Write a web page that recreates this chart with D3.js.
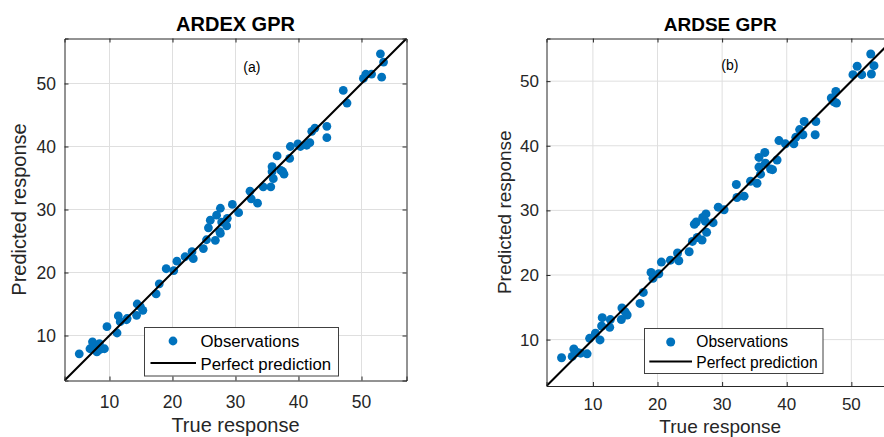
<!DOCTYPE html>
<html>
<head>
<meta charset="utf-8">
<script src="https://cdn.jsdelivr.net/npm/d3@7"></script>
<style>
  body { margin: 0; background: #fff; }
  svg { display: block; font-family: "Liberation Sans", Arial, Helvetica, sans-serif; }
</style>
</head>
<body>
<svg id="chart" width="884" height="437"></svg>
<script>
const ticks = [10, 20, 30, 40, 50];
const legendLabels = ['Observations', 'Perfect prediction'];

// ARDEX GPR (a)
const ardexTrue = [5.2, 6.9, 7.3, 7.7, 8.0, 8.1, 8.4, 8.5, 9.2, 9.6, 11.2, 11.4, 11.7, 12.7, 12.8, 14.3, 14.4, 14.9, 15.3, 17.4,
  17.9, 19.0, 20.2, 20.7, 22.0, 23.1, 23.3, 24.9, 25.4, 25.7, 26.0, 26.8, 27.0, 27.5, 27.6, 27.6, 27.8, 28.6, 28.7, 29.5,
  30.5, 32.3, 32.5, 33.5, 34.4, 35.6, 35.8, 35.8, 36.0, 36.6, 37.2, 37.5, 37.7, 38.6, 38.7, 39.9, 40.3, 41.3, 41.8, 42.1,
  42.6, 44.5, 44.5, 47.1, 47.7, 50.3, 50.7, 51.6, 53.0, 53.2, 53.5];
const ardexPred = [7.1, 7.9, 9.0, 8.2, 7.4, 8.2, 8.7, 7.8, 7.9, 11.4, 10.4, 13.1, 12.2, 12.5, 12.7, 13.2, 15.0, 14.6, 14.0, 16.6,
  18.2, 20.6, 20.3, 21.8, 22.5, 23.3, 22.2, 23.8, 25.2, 27.1, 28.3, 25.1, 29.1, 26.5, 30.2, 26.2, 28.0, 27.4, 28.6, 30.8,
  29.5, 32.9, 31.7, 31.0, 33.6, 33.6, 36.8, 36.0, 34.9, 38.5, 36.2, 36.0, 35.6, 38.1, 40.0, 40.4, 40.0, 40.2, 40.6, 42.4,
  42.9, 43.2, 41.4, 48.9, 46.9, 50.8, 51.5, 51.5, 54.7, 51.0, 53.4];

// ARDSE GPR (b)
const ardseTrue = [5.15, 6.8, 7.05, 7.6, 8.1, 9.1, 9.5, 10.4, 11.1, 11.35, 11.45, 12.6, 12.7, 14.4, 14.5, 15.0, 15.3, 17.3, 17.8, 19.0,
  19.3, 20.2, 20.6, 22.0, 23.1, 23.3, 24.9, 25.4, 25.7, 26.0, 26.15, 26.9, 27.0, 27.4, 27.5, 27.6, 28.6, 29.4, 30.3, 32.2,
  32.3, 33.4, 34.4, 35.4, 35.7, 35.7, 35.95, 36.6, 36.7, 37.5, 37.8, 38.5, 38.8, 39.8, 41.1, 41.4, 42.0, 42.5, 42.7, 44.4,
  44.5, 46.9, 47.3, 47.6, 47.7, 50.25, 50.9, 51.6, 53.0, 53.1, 53.5];
const ardsePred = [7.2, 7.4, 8.55, 8.0, 7.9, 7.8, 10.2, 11.0, 9.95, 12.1, 13.4, 11.9, 13.1, 13.1, 14.9, 14.3, 13.8, 15.6, 17.3, 20.4,
  19.5, 20.2, 22.0, 22.3, 23.4, 22.2, 23.6, 25.2, 27.85, 28.2, 25.8, 25.4, 28.9, 28.3, 29.45, 26.6, 28.1, 30.5, 30.1, 34.0,
  32.0, 32.2, 34.5, 34.2, 38.2, 36.7, 35.6, 38.95, 37.3, 36.4, 36.3, 37.8, 40.8, 40.3, 40.3, 41.3, 42.5, 41.7, 43.75, 41.7,
  43.75, 47.4, 46.8, 48.4, 46.6, 51.0, 52.3, 51.0, 54.2, 51.1, 52.4];

const blue = '#0072BD';
const ink = '#262626';
const svg = d3.select('#chart');

function drawPanel(p) {
  const x = d3.scaleLinear().domain(p.domain).range([p.left, p.right]);
  const y = d3.scaleLinear().domain(p.domain).range([p.bottom, p.top]);
  const g = svg.append('g');

  const clipId = 'clip-' + p.id;
  g.append('clipPath').attr('id', clipId)
    .append('rect')
    .attr('x', p.left).attr('y', p.top)
    .attr('width', p.right - p.left).attr('height', p.bottom - p.top);

  // grid
  g.append('g').selectAll('line.gx')
    .data(ticks).enter().append('line')
    .attr('x1', d => x(d)).attr('x2', d => x(d))
    .attr('y1', p.top).attr('y2', p.bottom)
    .attr('stroke', '#dfdfdf').attr('stroke-width', 1);
  g.append('g').selectAll('line.gy')
    .data(ticks).enter().append('line')
    .attr('y1', d => y(d)).attr('y2', d => y(d))
    .attr('x1', p.left).attr('x2', p.right)
    .attr('stroke', '#dfdfdf').attr('stroke-width', 1);

  // observations
  const pts = p.xs.map((v, i) => [v, p.ys[i]]);
  g.append('g').attr('clip-path', `url(#${clipId})`)
    .selectAll('circle')
    .data(pts).enter().append('circle')
    .attr('cx', d => x(d[0]))
    .attr('cy', d => y(d[1]))
    .attr('r', p.r)
    .attr('fill', blue);

  // perfect prediction
  g.append('line')
    .attr('clip-path', `url(#${clipId})`)
    .attr('x1', x(p.domain[0])).attr('y1', y(p.domain[0]))
    .attr('x2', x(p.domain[1])).attr('y2', y(p.domain[1]))
    .attr('stroke', '#000').attr('stroke-width', 2);

  // axes box with inward ticks
  const axes = [
    d3.axisBottom(x).tickValues(ticks).tickSize(-4).tickFormat(''),
    d3.axisTop(x).tickValues(ticks).tickSize(-4).tickFormat(''),
    d3.axisLeft(y).tickValues(ticks).tickSize(-4).tickFormat(''),
    d3.axisRight(y).tickValues(ticks).tickSize(-4).tickFormat('')
  ];
  const shifts = [[0, p.bottom], [0, p.top], [p.left, 0], [p.right, 0]];
  axes.forEach((a, i) => {
    const ag = g.append('g').attr('transform', `translate(${shifts[i][0]},${shifts[i][1]})`).call(a);
    ag.selectAll('path, line').attr('stroke', ink).attr('stroke-width', 1);
  });

  // tick labels
  g.append('g').selectAll('text')
    .data(ticks).enter().append('text')
    .attr('x', d => x(d))
    .attr('y', p.xTickY)
    .attr('text-anchor', 'middle')
    .attr('font-size', p.tickFont)
    .attr('fill', ink)
    .text(d => d);
  g.append('g').selectAll('text')
    .data(ticks).enter().append('text')
    .attr('x', p.yTickX)
    .attr('y', d => y(d) + p.tickFont * 0.36)
    .attr('text-anchor', 'end')
    .attr('font-size', p.tickFont)
    .attr('fill', ink)
    .text(d => d);

  // labels
  const cx = (p.left + p.right) / 2;
  g.append('text')
    .attr('x', cx).attr('y', 31)
    .attr('text-anchor', 'middle')
    .attr('font-size', p.titleFont)
    .attr('font-weight', 'bold')
    .attr('fill', '#000')
    .text(p.title);
  g.append('text')
    .attr('x', cx).attr('y', p.xLabelY)
    .attr('text-anchor', 'middle')
    .attr('font-size', p.labelFont)
    .attr('fill', ink)
    .text('True response');
  g.append('text')
    .attr('transform', `translate(${p.yLabelX},${(p.top + p.bottom) / 2}) rotate(-90)`)
    .attr('text-anchor', 'middle')
    .attr('font-size', p.labelFont)
    .attr('fill', ink)
    .text('Predicted response');
  g.append('text')
    .attr('x', x(p.tag[0])).attr('y', y(p.tag[1]))
    .attr('text-anchor', 'middle')
    .attr('font-size', 14)
    .attr('fill', '#000')
    .text(p.tag[2]);

  // legend
  const L = p.legend;
  const lg = g.append('g');
  lg.append('rect')
    .attr('x', L.x).attr('y', L.y).attr('width', L.w).attr('height', L.h)
    .attr('fill', '#fff').attr('stroke', '#404040').attr('stroke-width', 1);
  lg.append('circle')
    .attr('cx', L.markX).attr('cy', L.y + 13.5).attr('r', p.r).attr('fill', blue);
  lg.append('line')
    .attr('x1', L.lineX[0]).attr('x2', L.lineX[1])
    .attr('y1', L.y + L.lineDy).attr('y2', L.y + L.lineDy)
    .attr('stroke', '#000').attr('stroke-width', 2);
  lg.selectAll('text.item')
    .data(legendLabels).enter().append('text')
    .attr('x', L.textX)
    .attr('y', (d, i) => L.y + L.baseDy[i])
    .attr('font-size', L.font)
    .attr('fill', '#000')
    .text(d => d);
}

drawPanel({
  id: 'a', title: 'ARDEX GPR', xs: ardexTrue, ys: ardexPred,
  domain: [2.86, 57.14], left: 64.5, right: 406.5, top: 38.5, bottom: 380.5,
  r: 4.4, tickFont: 17.5, labelFont: 20, titleFont: 20,
  xTickY: 407.5, yTickX: 56, xLabelY: 432, yLabelX: 26,
  tag: [32.6, 51.8, '(a)'],
  legend: { x: 144.5, y: 327.5, w: 194, h: 48.5, markX: 173, lineX: [150.5, 196], lineDy: 35.5,
    textX: 200.5, baseDy: [19.5, 42], font: 16.8 }
});

drawPanel({
  id: 'b', title: 'ARDSE GPR', xs: ardseTrue, ys: ardsePred,
  domain: [2.82, 56.6], left: 546.5, right: 894, top: 38.5, bottom: 386,
  r: 4.5, tickFont: 17, labelFont: 19, titleFont: 19,
  xTickY: 410, yTickX: 539, xLabelY: 432.5, yLabelX: 510.6,
  tag: [31.2, 51.7, '(b)'],
  legend: { x: 644.5, y: 328.5, w: 178.5, h: 45, markX: 670.7, lineX: [649.3, 692], lineDy: 33,
    textX: 696.3, baseDy: [18.5, 39], font: 15.6 }
});
</script>
</body>
</html>
